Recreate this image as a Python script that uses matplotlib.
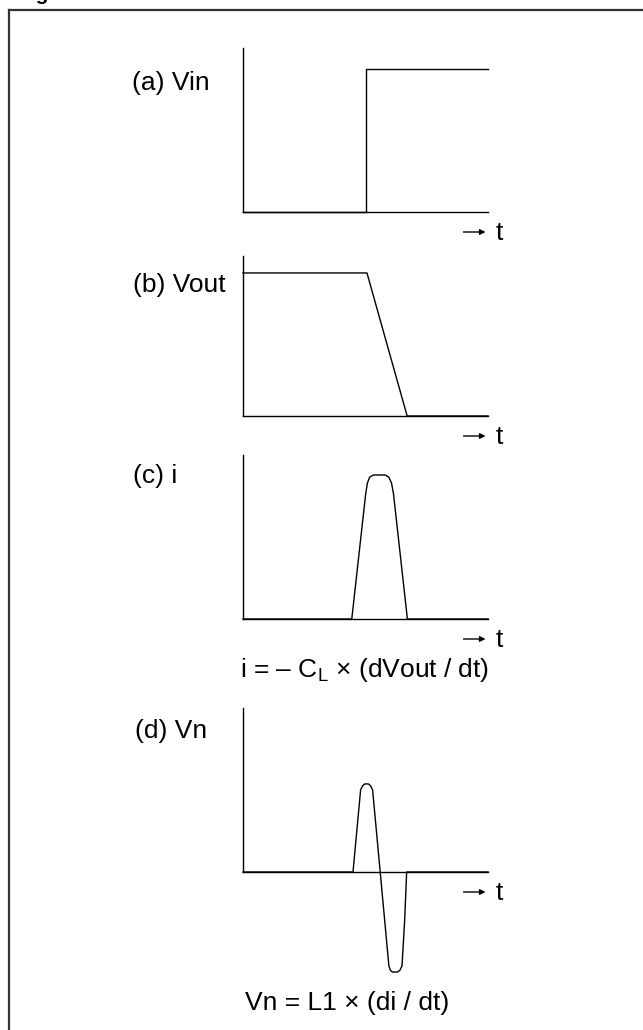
import matplotlib.pyplot as plt
from matplotlib.lines import Line2D
from matplotlib.transforms import ScaledTranslation

plt.rcParams['font.family'] = ['Liberation Sans', 'DejaVu Sans']
plt.rcParams['mathtext.fontset'] = 'custom'
plt.rcParams['mathtext.rm'] = 'Liberation Sans'

W, H = 643, 1030
FS = 19

# waveforms, time on 0..10, level 0..1 (1 = top of the vertical axis)
vin_t = [0, 5.0, 5.0, 10.0]
vin_v = [0, 0, 0.872, 0.872]

vout_t = [0, 5.06, 6.7, 10.0]
vout_v = [0.894, 0.894, 0, 0]

i_t = [0, 4.44, 5.01, 5.08, 5.17, 5.32, 5.80, 5.95, 6.06, 6.14, 6.71, 10.0]
i_v = [0, 0, 0.766, 0.83, 0.865, 0.878, 0.878, 0.865, 0.83, 0.766, 0, 0]

vn_t = [0, 4.49, 4.80, 4.88, 4.97, 5.12, 5.21, 5.29,
        5.955, 6.02, 6.10, 6.30, 6.40, 6.49, 6.60, 6.68, 10.0]
vn_v = [0, 0, 0.50, 0.525, 0.537, 0.537, 0.525, 0.50,
        -0.573, -0.60, -0.61, -0.61, -0.60, -0.573, -0.29, 0, 0]

labels = ['(a) Vin', '(b) Vout', '(c) i', '(d) Vn']
waves = [(vin_t, vin_v), (vout_t, vout_v), (i_t, i_v), (vn_t, vn_v)]

# pixel layout: (top of y axis, baseline), label anchor
panel_y = [(48, 212), (256, 416), (455, 619), (708, 872)]
label_xy = [(132, 90), (133, 292), (133, 483), (135, 738)]
ax_x0, ax_w = 243, 245


def px(x, y):
    return x / W, 1 - y / H


fig = plt.figure(figsize=(W / 100, H / 100), dpi=100)
fig.patch.set_facecolor('white')

# outer frame (left and top edges only)
fig.add_artist(Line2D([px(9, 0)[0], px(9, 0)[0]], [px(0, 10)[1], 0],
                      color='#333333', lw=1.6))
fig.add_artist(Line2D([px(9, 0)[0], 1], [px(0, 10)[1], px(0, 10)[1]],
                      color='#333333', lw=1.6))
# page caption sits above the top edge, only its descenders show
fig.text(*px(17, 0.5), 'Figure 3.  Ground Bounce Waveforms', fontsize=15,
         fontweight='bold', va='baseline')

for (tt, vv), lab, (ytop, ybase), (lx, ly) in zip(waves, labels, panel_y, label_xy):
    x0, y0 = px(ax_x0, ybase)
    ax = fig.add_axes([x0, y0, ax_w / W, (ybase - ytop) / H])
    ax.set_xlim(0, 10)
    ax.set_ylim(0, 1)
    ax.patch.set_alpha(0)
    for s in ['top', 'right']:
        ax.spines[s].set_visible(False)
    for s in ['left', 'bottom']:
        ax.spines[s].set_linewidth(1.0)
    ax.set_xticks([])
    ax.set_yticks([])
    ax.plot(tt, vv, color='black', lw=1.0, clip_on=False,
            solid_joinstyle='round')

    # "-> t" marker under the right end of the time axis
    arr = ax.transData + ScaledTranslation(0, -0.20, fig.dpi_scale_trans)
    ax.annotate('', xy=(9.9, 0), xycoords=arr, xytext=(9.0, 0), textcoords=arr,
                arrowprops=dict(arrowstyle='-|>', lw=1.0, color='black',
                                mutation_scale=8, shrinkA=0, shrinkB=0))
    ax.text(10.3, 0, 't', fontsize=FS, va='baseline',
            transform=ax.transData + ScaledTranslation(0, -0.28, fig.dpi_scale_trans))

    fig.text(*px(lx, ly), lab, fontsize=FS, va='baseline')

fig.text(*px(240, 677), r'i = – C$_\mathrm{L}$ × (dVout / dt)', fontsize=FS,
         va='baseline')
fig.text(*px(245, 1010), 'Vn = L1 × (di / dt)', fontsize=FS, va='baseline')

fig.savefig('out.png', dpi=100)
